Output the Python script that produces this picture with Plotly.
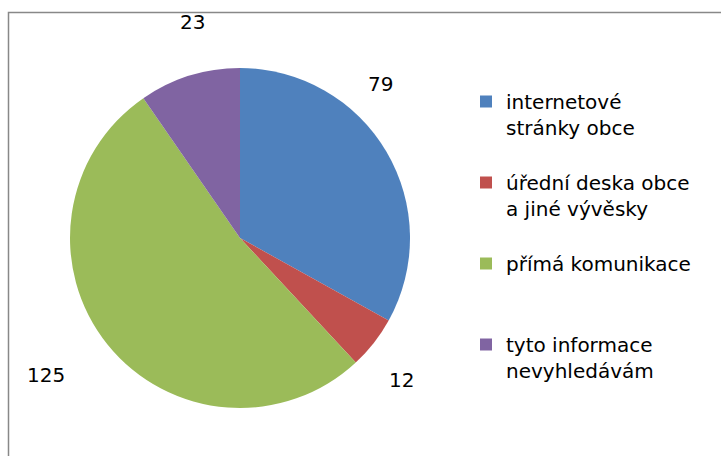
import plotly.graph_objects as go

W, H = 721, 456

labels = ["internetové<br>stránky obce<br> ",
          "úřední deska obce<br>a jiné vývěsky<br> ",
          "přímá komunikace<br> <br> ",
          "tyto informace<br>nevyhledávám<br> "]
values = [79, 12, 125, 23]
colors = ["#4F81BD", "#C0504D", "#9BBB59", "#8064A2"]
# value label anchor points in pixels (placement as in the original)
label_px = [(380, 84), (401, 380), (46, 375), (192, 22)]

font_family = "DejaVu Sans, sans-serif"

fig = go.Figure(go.Pie(
    labels=labels,
    values=values,
    marker=dict(colors=colors, line=dict(width=0)),
    sort=False,
    direction="clockwise",
    rotation=0,
    textinfo="none",
    hoverinfo="label+value",
    domain=dict(x=[70 / W, 410 / W], y=[1 - 408 / H, 1 - 68 / H]),
))

for v, (px, py) in zip(values, label_px):
    fig.add_annotation(
        x=px / W, y=1 - py / H, xref="paper", yref="paper",
        text=str(v), showarrow=False,
        font=dict(size=20, color="#000000", family=font_family),
        xanchor="center", yanchor="middle",
    )

fig.add_shape(type="rect", xref="paper", yref="paper",
              x0=8.5 / W, y0=-0.1, x1=1.1, y1=1 - 12.5 / H,
              line=dict(color="#888888", width=1.5), fillcolor="rgba(0,0,0,0)")

fig.update_layout(
    width=W, height=H,
    margin=dict(l=0, r=0, t=0, b=0),
    paper_bgcolor="white",
    plot_bgcolor="white",
    font=dict(family=font_family, size=20, color="#000000"),
    legend=dict(
        x=466 / W, y=1 - 82 / H, xanchor="left", yanchor="top",
        valign="top",
        font=dict(size=20, family=font_family, color="#000000"),
        itemwidth=30,
        bgcolor="rgba(0,0,0,0)",
    ),
    showlegend=True,
)

fig.write_html("out.html", config={"displayModeBar": False},
               post_script="document.body.style.margin='0';")
